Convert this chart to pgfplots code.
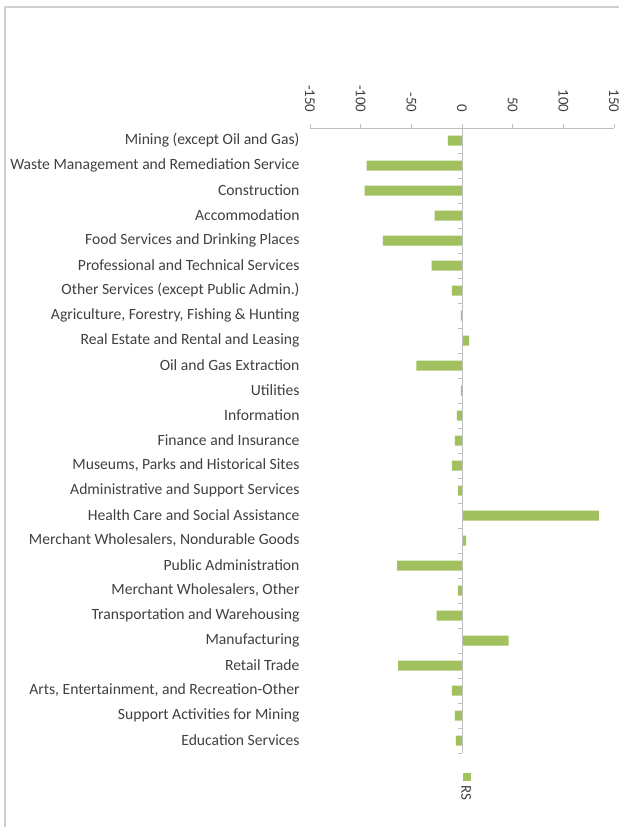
\documentclass[border=0pt]{standalone}
\usepackage{pgfplots}
\pgfplotsset{compat=1.18}
\usepackage{pgfplotstable}
\usepackage{fontspec}
\setmainfont{Carlito}
\definecolor{barg}{HTML}{A0C15E}
\definecolor{txt}{HTML}{404040}
\definecolor{axg}{HTML}{BFBFBF}
\definecolor{frameg}{HTML}{D0D0D0}
\pgfplotstableread{
y x
0 -14
1 -94
2 -96
3 -27
4 -78
5 -30
6 -10
7 -1
8 7
9 -45
10 -1
11 -5
12 -7
13 -10
14 -4
15 135
16 4
17 -64
18 -4
19 -25
20 46
21 -63
22 -10
23 -7
24 -6
}\data
\begin{document}
\begin{tikzpicture}
\useasboundingbox (0,0) rectangle (619bp,827bp);
\draw[frameg, line width=1.3bp] (5bp,0) -- (5bp,820bp) -- (619bp,820bp);
\begin{axis}[
  at={(310bp,74bp)}, anchor=south west,
  scale only axis, width=304bp, height=625bp,
  xmin=-150, xmax=150, ymin=-0.5, ymax=24.5, y dir=reverse,
  axis x line*=top, axis y line*=left,
  y axis line style={draw=none},
  x axis line style={axg, line width=0.8bp, -},
  xtick={-150,-100,...,150},
  xtick align=outside, major tick length=4bp,
  xtick style={axg, line width=0.8bp},
  ytick style={draw=none},
  /pgf/number format/assume math mode=true,
  xticklabel style={rotate=-90, anchor=east, font=\fontsize{15}{16}\selectfont, text=txt, xshift=-8bp},
  ytick={0,...,24},
  yticklabels={{Mining (except Oil and Gas)},{Waste Management and Remediation Service},{Construction},{Accommodation},{Food Services and Drinking Places},{Professional and Technical Services},{Other Services (except Public Admin.)},{Agriculture, Forestry, Fishing \& Hunting},{Real Estate and Rental and Leasing},{Oil and Gas Extraction},{Utilities},{Information},{Finance and Insurance},{Museums, Parks and Historical Sites},{Administrative and Support Services},{Health Care and Social Assistance},{Merchant Wholesalers, Nondurable Goods},{Public Administration},{Merchant Wholesalers, Other},{Transportation and Warehousing},{Manufacturing},{Retail Trade},{Arts, Entertainment, and Recreation-Other},{Support Activities for Mining},{Education Services}},
  yticklabel style={font=\fontsize{15.7}{16}\selectfont, text=txt, xshift=-3bp},
  xbar, bar width=10bp,
  legend style={at={(axis cs:4,25.7)}, anchor=north, draw=none, fill=none, font=\fontsize{15}{16}\selectfont, text=txt, inner sep=0pt, column sep=0pt},
  legend image code/.code={\fill[barg, overlay] (0.14cm,0.16cm) rectangle (0.42cm,0.44cm);},
]
\addplot[fill=barg, draw=none] table[x=x,y=y]{\data};
\addlegendentry{\rotatebox{-90}{RS}}
\draw[axg, line width=0.8bp] (axis cs:0,-0.5) -- (axis cs:0,24.5);
\pgfplotsinvokeforeach{0,...,25}{
  \draw[axg, line width=0.8bp] (axis cs:0,#1-0.5) -- ([xshift=-4bp]axis cs:0,#1-0.5);
}
\end{axis}
\end{tikzpicture}
\end{document}
